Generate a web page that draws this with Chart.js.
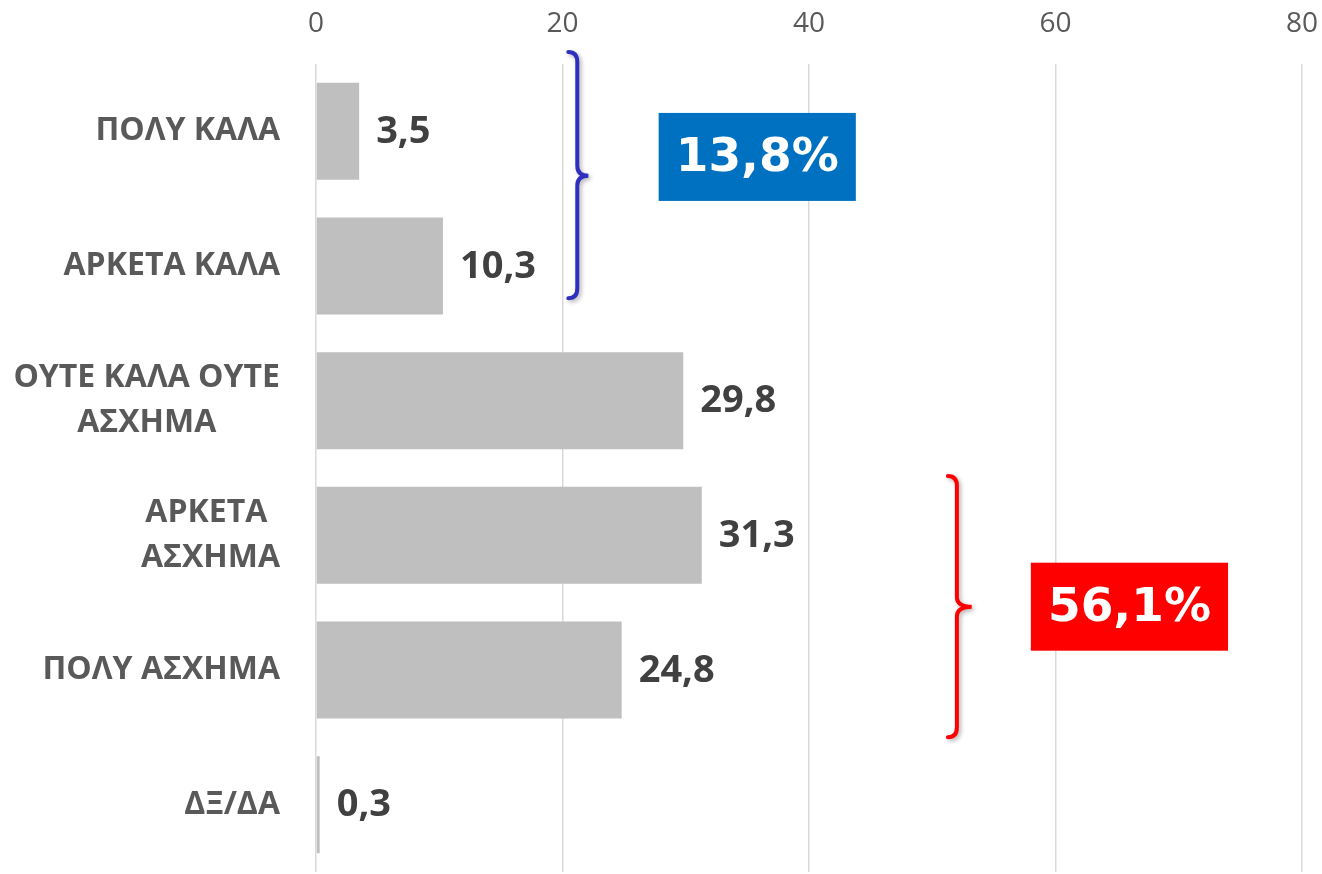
<!DOCTYPE html>
<html>
<head>
<meta charset="utf-8">
<script src="https://cdn.jsdelivr.net/npm/chart.js@4.4.0/dist/chart.umd.min.js"></script>
<style>
	html, body { margin: 0; padding: 0; background: #fff; }
	#wrap { width: 1322px; height: 874px; position: relative; }
</style>
</head>
<body>
<div id="wrap"><canvas id="chart"></canvas></div>
<script>
	'use strict';

	var categories = [["ΠΟΛΥ ΚΑΛΑ"], ["ΑΡΚΕΤΑ ΚΑΛΑ"], ["ΟΥΤΕ ΚΑΛΑ ΟΥΤΕ", "ΑΣΧΗΜΑ"], ["ΑΡΚΕΤΑ ", "ΑΣΧΗΜΑ"], ["ΠΟΛΥ ΑΣΧΗΜΑ"], ["ΔΞ/ΔΑ"]];
	var values = [3.5, 10.3, 29.8, 31.3, 24.8, 0.3];
	var groupLabels = ["13,8%", "56,1%"];

	// brace + box annotations, placed in scale units (x value, category index)
	var groups = [
		{ label: groupLabels[0], color: "#2F2FBF", box: "#0070C0", x: 21.2, tip: 22.1, from: -0.59, to: 1.24, mid: 0.33, boxFrom: 27.8, boxTo: 43.8, boxY: 0.19 },
		{ label: groupLabels[1], color: "#FF0000", box: "#FF0000", x: 52.0, tip: 53.2, from: 2.56, to: 4.5, mid: 3.53, boxFrom: 58.0, boxTo: 74.0, boxY: 3.53 }
	];

	function fmt(v) {
		return v.toFixed(1).replace('.', ',');
	}

	function drawBrace(ctx, xs, g) {
		var xv = xs.x.getPixelForValue(g.x);
		var xp = xs.x.getPixelForValue(g.tip);
		var xl = xv - 9;
		var top = xs.y.getPixelForValue(g.from);
		var bot = xs.y.getPixelForValue(g.to);
		var mid = xs.y.getPixelForValue(g.mid);
		var r = 10;
		ctx.save();
		ctx.strokeStyle = g.color;
		ctx.lineWidth = 4;
		ctx.lineCap = 'round';
		ctx.shadowColor = 'rgba(0,0,0,0.3)';
		ctx.shadowBlur = 4;
		ctx.shadowOffsetX = 2;
		ctx.shadowOffsetY = 2;
		ctx.beginPath();
		ctx.moveTo(xl, top);
		ctx.quadraticCurveTo(xv, top, xv, top + r);
		ctx.lineTo(xv, mid - r);
		ctx.quadraticCurveTo(xv, mid, xp, mid);
		ctx.quadraticCurveTo(xv, mid, xv, mid + r);
		ctx.lineTo(xv, bot - r);
		ctx.quadraticCurveTo(xv, bot, xl, bot);
		ctx.stroke();
		ctx.restore();
	}

	var decorPlugin = {
		id: 'decor',
		afterDatasetsDraw: function(chart) {
			var ctx = chart.ctx;
			var xs = chart.scales.x;
			var ys = chart.scales.y;
			var meta = chart.getDatasetMeta(0);

			ctx.save();
			// category labels: block right aligned, lines centered
			ctx.font = 'bold 32px "Open Sans"';
			ctx.fillStyle = '#595959';
			ctx.textBaseline = 'middle';
			ctx.textAlign = 'center';
			var right = 280, lh = 45;
			categories.forEach(function(lines, i) {
				var w = 0;
				lines.forEach(function(l) { w = Math.max(w, ctx.measureText(l).width); });
				var cx = right - w / 2;
				var cy = ys.getPixelForValue(i) - (lines.length - 1) * lh / 2;
				lines.forEach(function(l, j) {
					ctx.fillText(l, cx, cy + j * lh);
				});
			});

			// value labels
			ctx.font = 'bold 38px "Open Sans"';
			ctx.fillStyle = '#404040';
			ctx.textAlign = 'left';
			meta.data.forEach(function(bar, i) {
				ctx.fillText(fmt(values[i]), bar.x + 17, bar.y + 1);
			});
			ctx.restore();

			groups.forEach(function(g) {
				drawBrace(ctx, { x: xs, y: ys }, g);
				var x0 = xs.getPixelForValue(g.boxFrom);
				var x1 = xs.getPixelForValue(g.boxTo);
				var cy = ys.getPixelForValue(g.boxY);
				ctx.save();
				ctx.fillStyle = g.box;
				ctx.fillRect(x0, cy - 44, x1 - x0, 88);
				ctx.fillStyle = '#fff';
				ctx.font = 'bold 47px "DejaVu Sans"';
				ctx.textAlign = 'center';
				ctx.textBaseline = 'middle';
				ctx.fillText(g.label, (x0 + x1) / 2, cy + 2);
				ctx.restore();
			});
		}
	};

	new Chart(document.getElementById('chart').getContext('2d'), {
		type: 'bar',
		data: {
			labels: categories,
			datasets: [{
				data: values,
				backgroundColor: '#BFBFBF',
				barPercentage: 0.72,
				categoryPercentage: 1
			}]
		},
		options: {
			indexAxis: 'y',
			responsive: true,
			maintainAspectRatio: false,
			animation: false,
			layout: { padding: { left: 0, right: 20, top: 0, bottom: 2 } },
			plugins: {
				legend: { display: false },
				tooltip: { enabled: false }
			},
			scales: {
				x: {
					position: 'top',
					min: 0,
					max: 80,
					ticks: {
						stepSize: 20,
						color: '#595959',
						font: { family: 'Open Sans', size: 28 },
						padding: 23
					},
					grid: { color: '#D9D9D9', lineWidth: 1.5, drawTicks: false },
					border: { display: false },
					afterFit: function(scale) {
						scale.height = 64;
						scale.paddingLeft = 0;
						scale.paddingRight = 0;
					}
				},
				y: {
					ticks: { display: false },
					grid: { display: false },
					border: { display: false },
					afterFit: function(scale) { scale.width = 316; }
				}
			}
		},
		plugins: [decorPlugin]
	});
</script>
</body>
</html>
